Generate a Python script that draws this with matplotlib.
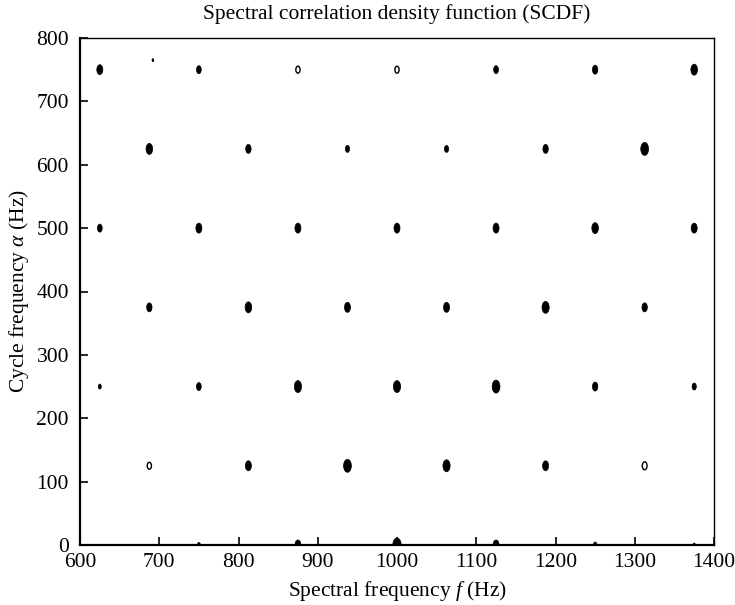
import matplotlib
matplotlib.use('Agg')
import matplotlib.pyplot as plt
from matplotlib.path import Path
from matplotlib.transforms import Affine2D

# peak locations (Hz) and relative peak size
f_solid = [625, 750, 1125, 1250, 1375,
           687.5, 812.5, 937.5, 1062.5, 1187.5, 1312.5,
           625, 750, 875, 1000, 1125, 1250, 1375,
           687.5, 812.5, 937.5, 1062.5, 1187.5, 1312.5,
           625, 750, 875, 1000, 1125, 1250, 1375,
           812.5, 937.5, 1062.5, 1187.5,
           750, 875, 1000, 1125, 1250, 1375, 692]
alpha_solid = [750, 750, 750, 750, 750,
               625, 625, 625, 625, 625, 625,
               500, 500, 500, 500, 500, 500, 500,
               375, 375, 375, 375, 375, 375,
               250, 250, 250, 250, 250, 250, 250,
               125, 125, 125, 125,
               0, 0, 0, 0, 0, 0, 765]
peak_solid = [10, 8, 8, 9, 11,
              11, 9, 7, 7, 9, 13,
              8, 10, 10, 10, 10, 11, 10,
              9, 11, 10, 10, 12, 9,
              5, 8, 12, 12, 13, 9, 7,
              10, 13, 12, 10,
              5, 10, 14, 10, 6, 4, 3]

f_ring = [875, 1000, 687.5, 1312.5]
alpha_ring = [750, 750, 125, 125]
peak_ring = [7, 7, 7, 8]

plt.rcParams['font.family'] = 'Liberation Serif'
plt.rcParams['mathtext.fontset'] = 'custom'
plt.rcParams['mathtext.rm'] = 'Liberation Serif'
plt.rcParams['mathtext.it'] = 'Liberation Serif:italic'

fig = plt.figure(figsize=(7.35, 6.05), dpi=100)
ax = fig.add_axes([80/735, 1 - 545/605, 634/735, 507/605])

# tall ellipse marker like the contour islands
blob = Path.unit_circle().transformed(Affine2D().scale(0.6, 1.0))

def px2s(p):
    # marker height in pixels -> scatter size
    return (p * 72 / 100) ** 2

ax.scatter(f_solid, alpha_solid, s=[px2s(p) for p in peak_solid], marker=blob,
           color='black', linewidths=0.5, zorder=3)
ax.scatter(f_ring, alpha_ring, s=[px2s(p) for p in peak_ring], marker=blob,
           facecolor='white', edgecolor='black', linewidths=1.0, zorder=3)

ax.set_xlim(600, 1400)
ax.set_ylim(0, 800)
ax.set_xticks(range(600, 1401, 100))
ax.set_yticks(range(0, 801, 100))
ax.tick_params(direction='in', length=6, width=1.2, labelsize=15.5, pad=6,
               top=False, right=False)
ax.tick_params(axis='y', pad=8)
for side in ['left', 'bottom']:
    ax.spines[side].set_linewidth(1.6)
for side in ['top', 'right']:
    ax.spines[side].set_linewidth(1.0)

ax.set_title('Spectral correlation density function (SCDF)', fontsize=15.5, pad=14)
ax.set_xlabel('Spectral frequency $f$ (Hz)', fontsize=15.5, labelpad=5)
ax.set_ylabel(r'Cycle frequency $\alpha$ (Hz)', fontsize=15.5, labelpad=4)

fig.savefig('out.png', dpi=100)
